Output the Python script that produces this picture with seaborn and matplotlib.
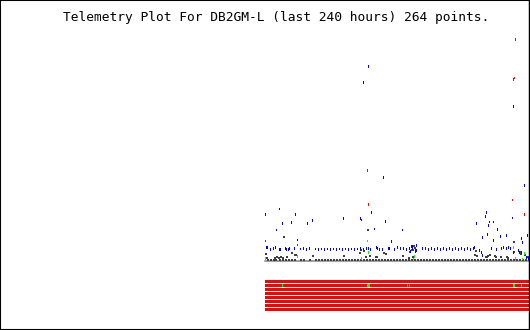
import matplotlib
matplotlib.use("Agg")
import matplotlib.pyplot as plt
from matplotlib.patches import Rectangle
from matplotlib.lines import Line2D
import seaborn as sns
import pandas as pd

TITLE = "Telemetry Plot For DB2GM-L (last 240 hours) 264 points."

# Regular channel (blue) near the baseline
blue_row_x = [1, 2, 5, 8, 10, 14, 14, 15, 20, 21, 23, 24, 29, 35, 38, 41, 44, 50, 53, 56,
              59, 62, 65, 68, 71, 74, 77, 80, 83, 86, 89, 92, 95, 98, 101, 103, 105, 111, 112, 114,
              117, 123, 124, 129, 132, 135, 138, 141, 144, 147, 150, 151, 157, 160, 163, 166, 169, 172, 175, 178,
              181, 184, 187, 190, 193, 196, 199, 202, 205, 208, 209, 214, 216, 217, 226, 231, 236, 238, 241, 243,
              245, 248, 253, 254, 256, 259, 261, 263]
blue_row_y = [13, 13, 11, 12, 13, 11, 11.5, 11, 12, 11, 11, 12, 12, 11.5, 12, 11, 12, 11.5, 11, 11.5,
              11, 11.5, 11, 11.5, 11, 11.5, 11, 11.5, 11, 11.5, 11, 11.5, 12, 11.5, 12, 12, 11, 13, 12, 11,
              11, 12, 12, 11, 13, 12, 12, 11, 12, 12, 10.5, 10, 12, 12, 11, 12, 11, 12, 11, 12,
              11, 12, 11, 12, 11, 12, 11, 12, 11, 12, 13, 10, 8, 5, 12, 11, 12, 13, 12, 13,
              12, 8, 10, 8, 8, 7, 3, 2]

# Scattered higher values of the blue channel
blue_up_x = [0, 14, 11, 17, 26, 30, 42, 47, 32, 78, 95, 96, 106, 109, 120, 126, 103, 98, 118, 248,
             259, 137, 211, 221, 220, 224, 228, 223, 232, 247, 222, 217, 235, 241, 228, 256, 257, 262,
             146, 147, 150, 151, 145]
blue_up_y = [46, 51.5, 30.5, 37, 38, 46, 37, 40, 20.5, 42, 42, 40.5, 48, 31.5, 39, 19, 194, 178, 83, 154,
             75, 30.5, 37, 48, 44, 38.5, 38.5, 35, 31, 42.5, 26, 23, 24, 25, 20, 22, 18, 25,
             14, 14, 9, 15, 9]

# Dark channel: values sitting on the baseline
dark_base_x = [2, 5, 8, 10, 14, 17, 20, 23, 26, 29, 35, 38, 44, 50, 53, 56, 59, 62, 65, 68,
               71, 74, 77, 80, 83, 86, 89, 92, 95, 98, 101, 104, 107, 110, 113, 116, 119, 122, 125, 128,
               131, 134, 137, 140, 143, 146, 149, 152, 155, 158, 161, 164, 167, 170, 173, 176, 179, 182, 185, 188,
               191, 194, 197, 200, 203, 206, 209, 212, 215, 218, 221, 224, 227, 230, 233, 236, 239, 242, 245, 248,
               251, 254, 257, 260, 263]

# Dark channel: raised values
dark_up_x = [0, 1, 9, 11, 13, 15, 17, 21, 26, 29, 30, 47, 78, 94, 95, 98, 100, 104, 110, 111,
             118, 120, 18, 102, 137, 144, 146, 148, 149, 147, 143, 210, 209, 211, 220, 221, 222, 224, 229, 230,
             235, 241, 242, 248, 248, 254, 255, 259, 261, 263]
dark_up_y = [7, 3, 3, 4, 3, 4, 3, 4, 8, 6, 6, 5, 5, 8, 11, 10, 4, 5, 4, 4,
             8, 7, 23.5, 30.5, 5, 9, 11, 15, 13, 4, 3, 10, 6, 5, 4, 4, 5, 6, 5, 4,
             4, 4, 3, 19, 9, 9, 7, 6, 4, 4]

red_x = [103, 0, 32, 102, 250, 249, 248, 247, 259, 148]
red_y = [56, 19.5, 15.5, 90, 221, 182.5, 181, 60.5, 46, 10.5]

green_x = [0, 32, 102, 103, 96, 148, 149, 248, 250, 259, 257]
green_y = [2, 4, 19.5, 8, 2, 1.5, 4, 13, 2, 7, 1.5]

# Status band: 8 rows, green marks on row 2 (start, width in same x units)
band_rows = 8
green_mark_start = [17, 102.3, 142, 144, 248.3, 256]
green_mark_width = [1, 2.7, 1, 1, 1.3, 1]

frames = []
frames.append(pd.DataFrame({"x": blue_row_x, "y": blue_row_y[:len(blue_row_x)], "ch": "blue"}))
frames.append(pd.DataFrame({"x": blue_up_x, "y": blue_up_y[:len(blue_up_x)], "ch": "blue"}))
frames.append(pd.DataFrame({"x": red_x, "y": red_y, "ch": "red"}))
frames.append(pd.DataFrame({"x": green_x, "y": green_y, "ch": "green"}))
tall = pd.concat(frames, ignore_index=True)
dark = pd.concat([
    pd.DataFrame({"x": dark_base_x, "y": [1] * len(dark_base_x)}),
    pd.DataFrame({"x": dark_up_x, "y": dark_up_y[:len(dark_up_x)]}),
], ignore_index=True)

sns.set_style("white")
fig = plt.figure(figsize=(5.3, 3.3), dpi=100)
W, H = 530.0, 330.0
ax = fig.add_axes([265 / W, (H - 261) / H, 264 / W, 231 / H])
ax.set_xlim(-0.5, 263.5)
ax.set_ylim(-0.5, 230.5)
ax.axis("off")
ax.axhline(-0.5, color="#a0a0a0", lw=1.44, zorder=1, clip_on=False)

rect = matplotlib.markers.MarkerStyle([(-0.25, -0.5), (0.25, -0.5), (0.25, 0.5), (-0.25, 0.5), (-0.25, -0.5)])
sns.scatterplot(data=dark, x="x", y="y", color="#404040", marker="s", s=0.6,
                linewidth=0, legend=False, ax=ax, zorder=2)
sns.scatterplot(data=tall, x="x", y="y", hue="ch",
                palette={"blue": "#0000ff", "red": "#ff0000", "green": "#00ff00"},
                marker=rect, s=3.5, linewidth=0, legend=False, ax=ax, zorder=3)

bx = fig.add_axes([265 / W, (H - 312) / H, 264 / W, 32 / H])
bx.set_xlim(0, 264)
bx.set_ylim(band_rows, 0)
bx.axis("off")
rows = list(range(band_rows))
bx.barh([r + 0.375 for r in rows], [264] * band_rows, height=0.75, left=0, color="#ff0000", linewidth=0)
bx.barh([1.375] * len(green_mark_start), green_mark_width, height=0.75, left=green_mark_start,
        color="#00ff00", linewidth=0)

fig.text(0.521, 0.948, TITLE, ha="center", va="center", family="DejaVu Sans Mono", fontsize=9.3,
         color="black")
fig.add_artist(Rectangle((0, 0), 1, 1, transform=fig.transFigure, fill=False, ec="black", lw=1.5))
fig.add_artist(Line2D([528.8 / W] * 2, [0, 1], transform=fig.transFigure, color="black", lw=1.0))

fig.savefig("out.png", dpi=100)
